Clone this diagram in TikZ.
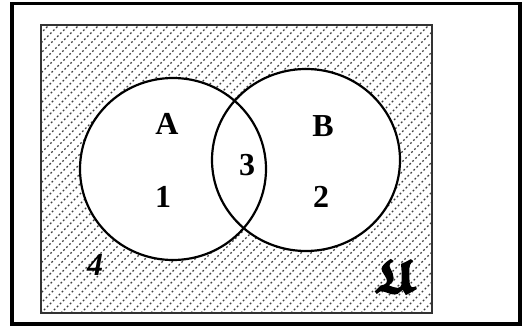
\documentclass[tikz,border=0pt]{standalone}
\usepackage{amssymb}
\usepackage{bm}
\usepackage{fontspec}
\setmainfont{Liberation Serif}
\begin{document}
\begin{tikzpicture}[x=1pt,y=-1pt,
  lbl/.style={font=\fontsize{32}{32}\selectfont\bfseries, inner sep=0pt},
  hatch/.style={black!75, line width=1.4pt, dash pattern=on 1.8pt off 2.4pt},
  setline/.style={line width=2.2pt, black}]
\useasboundingbox (0,0) rectangle (522,326);
% hatched universe
\begin{scope}
  \clip (41,25) rectangle (432,313);
  \foreach \i in {0,...,72}{
    \draw[hatch] ({41-300+\i*10},313) -- ++(300,-300);
  }
\end{scope}
% sets
\fill[white] (173,169) ellipse [x radius=93, y radius=91];
\fill[white] (306,160) ellipse [x radius=94, y radius=91];
\draw[setline] (173,169) ellipse [x radius=93, y radius=91];
\draw[setline] (306,160) ellipse [x radius=94, y radius=91];
% universe border
\draw[line width=1.4pt, black!80] (41,25) rectangle (432,313);
% outer frame
\draw[line width=3.6pt] (12,3.5) rectangle (520,324);
% labels
\node[lbl] (la) at (167,124) {A};
\node[lbl] (lb) at (323,126) {B};
\node[lbl] (l3) at (247,165) {3};
\node[lbl] (l1) at (163,197) {1};
\node[lbl] (l2) at (321,197) {2};
\node[lbl] (l4) at (95,265) {\itshape 4};
\node[inner sep=0pt] (lu) at (395,276) {\special{pdf:literal direct 2 Tr 2.2 w}\fontsize{46}{46}\selectfont$\bm{\mathfrak{U}}$\special{pdf:literal direct 0 Tr 1 w}};
\end{tikzpicture}
\end{document}
